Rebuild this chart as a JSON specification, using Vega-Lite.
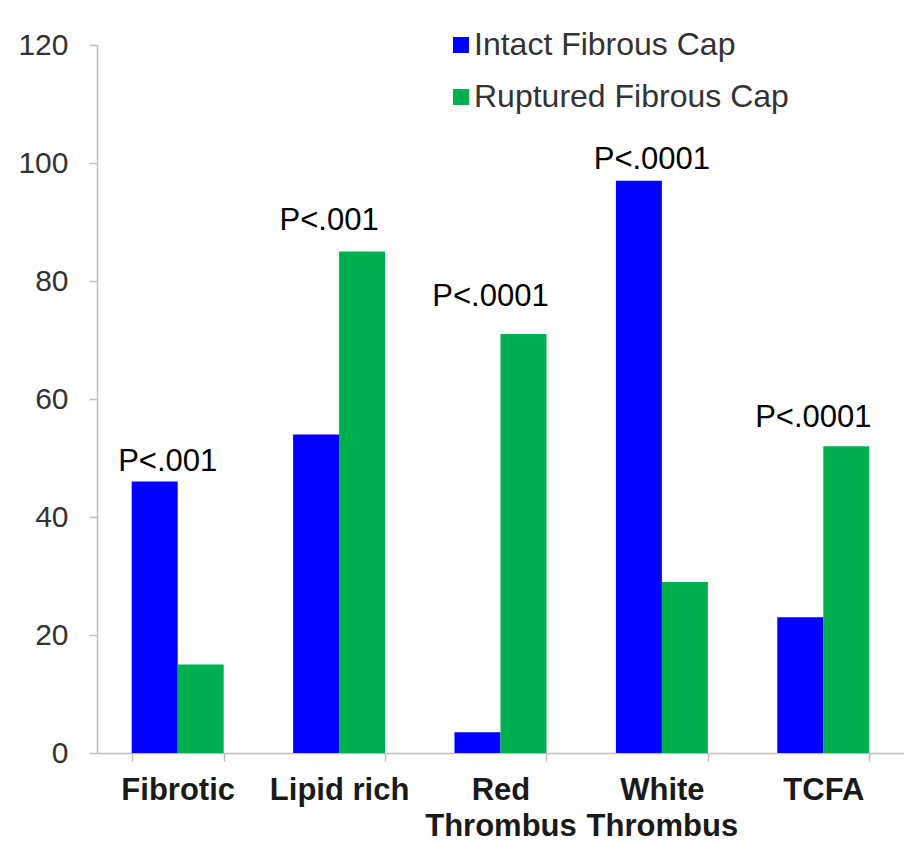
{
  "$schema": "https://vega.github.io/schema/vega-lite/v6.json",
  "width": 807,
  "height": 708,
  "autosize": "none",
  "padding": {"left": 97, "top": 45, "right": 0, "bottom": 89},
  "background": "white",
  "config": {"view": {"stroke": null}, "font": "Liberation Sans"},
  "layer": [
    {
      "data": {
        "values": [
          {"category": "Fibrotic", "series": "Intact Fibrous Cap", "value": 46},
          {"category": "Fibrotic", "series": "Ruptured Fibrous Cap", "value": 15},
          {"category": "Lipid rich", "series": "Intact Fibrous Cap", "value": 54},
          {"category": "Lipid rich", "series": "Ruptured Fibrous Cap", "value": 85},
          {"category": "Red Thrombus", "series": "Intact Fibrous Cap", "value": 3.5},
          {"category": "Red Thrombus", "series": "Ruptured Fibrous Cap", "value": 71},
          {"category": "White Thrombus", "series": "Intact Fibrous Cap", "value": 97},
          {"category": "White Thrombus", "series": "Ruptured Fibrous Cap", "value": 29},
          {"category": "TCFA", "series": "Intact Fibrous Cap", "value": 23},
          {"category": "TCFA", "series": "Ruptured Fibrous Cap", "value": 52}
        ]
      },
      "mark": {"type": "bar"},
      "encoding": {
        "x": {
          "field": "category",
          "type": "nominal",
          "sort": ["Fibrotic", "Lipid rich", "Red Thrombus", "White Thrombus", "TCFA"],
          "scale": {"paddingInner": 0.43, "paddingOuter": 0.215},
          "axis": {
            "title": null,
            "labelAngle": 0,
            "domainColor": "#bfbfbf",
            "domainWidth": 1.5,
            "tickColor": "#bfbfbf",
            "tickWidth": 1.5,
            "tickSize": 8,
            "tickBand": "extent",
            "labelFont": "Liberation Sans",
            "labelFontWeight": "bold",
            "labelFontSize": 31,
            "labelColor": "#1a1a1a",
            "labelPadding": 14,
            "labelLineHeight": 36,
            "labelExpr": "indexof(datum.label, 'Thrombus') > 0 ? split(datum.label, ' ') : datum.label"
          }
        },
        "xOffset": {
          "field": "series",
          "sort": ["Intact Fibrous Cap", "Ruptured Fibrous Cap"],
          "scale": {"paddingInner": 0, "paddingOuter": 0}
        },
        "y": {
          "field": "value",
          "type": "quantitative",
          "scale": {"domain": [0, 120]},
          "axis": {
            "title": null,
            "grid": false,
            "values": [0, 20, 40, 60, 80, 100, 120],
            "domainColor": "#bfbfbf",
            "domainWidth": 1.5,
            "tickColor": "#bfbfbf",
            "tickWidth": 1.5,
            "tickSize": 8,
            "labelFontSize": 30,
            "labelColor": "#333333",
            "labelPadding": 21
          }
        },
        "color": {
          "field": "series",
          "type": "nominal",
          "scale": {
            "domain": ["Intact Fibrous Cap", "Ruptured Fibrous Cap"],
            "range": ["#0000FF", "#00B050"]
          },
          "legend": {
            "orient": "none",
            "legendX": 348,
            "legendY": -16,
            "title": null,
            "labelFontSize": 32,
            "labelLimit": 0,
            "labelColor": "#333333",
            "symbolType": "square",
            "symbolSize": 256,
            "symbolStrokeWidth": 0,
            "rowPadding": 20,
            "labelOffset": -3,
            "padding": 0
          }
        }
      }
    },
    {
      "data": {
        "values": [
          {"category": "Fibrotic", "label": "P<.001", "at": 47.8},
          {"category": "Lipid rich", "label": "P<.001", "at": 88.6},
          {"category": "Red Thrombus", "label": "P<.0001", "at": 75.8},
          {"category": "White Thrombus", "label": "P<.0001", "at": 99},
          {"category": "TCFA", "label": "P<.0001", "at": 55.3}
        ]
      },
      "mark": {"type": "text", "fontSize": 31, "baseline": "alphabetic", "dx": -10, "color": "#000000"},
      "encoding": {
        "x": {"field": "category", "type": "nominal", "sort": ["Fibrotic", "Lipid rich", "Red Thrombus", "White Thrombus", "TCFA"]},
        "y": {"field": "at", "type": "quantitative"},
        "text": {"field": "label"}
      }
    }
  ]
}
